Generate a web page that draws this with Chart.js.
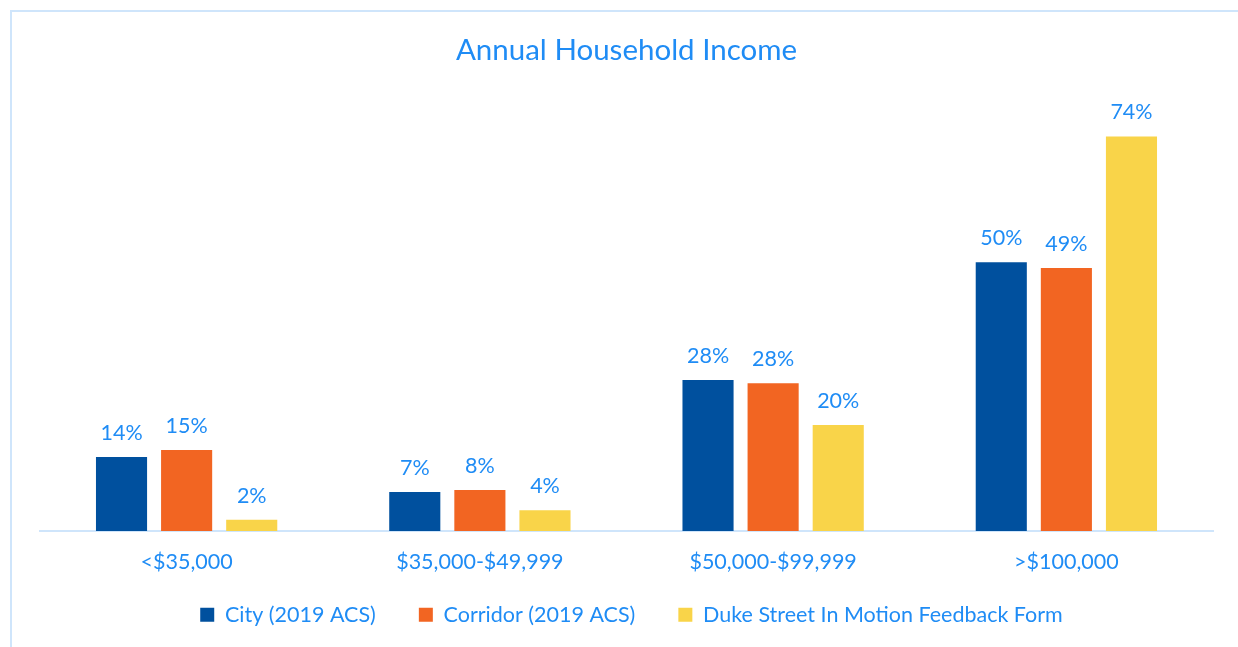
<!DOCTYPE html>
<html>
<head>
<meta charset="utf-8">
<script src="https://cdn.jsdelivr.net/npm/chart.js@4"></script>
<style>
  html, body { margin: 0; padding: 0; background: #fff; overflow: hidden; }
  #wrap { position: relative; width: 1238px; height: 647px; }
  #frame { position: absolute; left: 10px; top: 10px; width: 1300px; height: 700px;
           border-left: 2px solid #cfe5fb; border-top: 2px solid #cfe5fb; }
  canvas { position: absolute; left: 0; top: 0; }
</style>
</head>
<body>
<div id="wrap">
  <div id="frame"></div>
  <canvas id="barChart" width="1238" height="647"></canvas>
</div>
<script>
const categories = ["<$35,000", "$35,000-$49,999", "$50,000-$99,999", ">$100,000"];
const series_names = ["City (2019 ACS)", "Corridor (2019 ACS)", "Duke Street In Motion Feedback Form"];
const city_values = [13.9, 7.3, 28.3, 50.4];
const corridor_values = [15.2, 7.7, 27.7, 49.3];
const duke_values = [2.1, 3.9, 19.9, 74];
const bar_colors = ["#00509e", "#f26522", "#f9d449"];
const text_blue = "#1f8cf5";
const font_family = "Lato, 'Open Sans', sans-serif";

// draws the % labels over each bar
var barLabels = {
  id: "barLabels",
  afterDatasetsDraw: function(chart) {
    var ctx = chart.ctx;
    ctx.save();
    ctx.fillStyle = text_blue;
    ctx.font = "21.5px " + font_family;
    ctx.textAlign = "center";
    ctx.textBaseline = "middle";
    chart.data.datasets.forEach(function(ds, i) {
      chart.getDatasetMeta(i).data.forEach(function(bar, j) {
        ctx.fillText(Math.round(ds.data[j]) + "%", bar.x, bar.y - 24);
      });
    });
    ctx.restore();
  }
};

// legend padding is big for the gaps between items, pull it back up a bit
var legendLift = {
  id: "legendLift",
  afterLayout: function(chart) {
    chart.legend.top -= 16;
    chart.legend.bottom -= 16;
    chart.legend.left += 5;
    chart.legend.right += 5;
  }
};

var ctx = document.getElementById("barChart").getContext("2d");
var barChart = new Chart(ctx, {
  type: "bar",
  data: {
    labels: categories,
    datasets: [
      { label: series_names[0], data: city_values, backgroundColor: bar_colors[0] },
      { label: series_names[1], data: corridor_values, backgroundColor: bar_colors[1] },
      { label: series_names[2], data: duke_values, backgroundColor: bar_colors[2] }
    ]
  },
  options: {
    responsive: false,
    animation: false,
    categoryPercentage: 0.666,
    barPercentage: 0.785,
    layout: { padding: { left: 40, right: 25, top: 0, bottom: 4 } },
    scales: {
      x: {
        grid: { display: false, drawTicks: false },
        border: { color: "#cfe5fb", width: 2 },
        ticks: { color: text_blue, font: { family: font_family, size: 21.5 }, padding: 18 },
        afterFit: function(scale) { scale.height = 46; }
      },
      y: { display: false, min: 0, max: 80 }
    },
    plugins: {
      title: {
        display: true,
        text: "Annual Household Income",
        color: text_blue,
        font: { family: font_family, size: 29.5, weight: "normal" },
        padding: { top: 33, bottom: 36 }
      },
      legend: {
        position: "bottom",
        maxHeight: 66,
        labels: {
          color: text_blue,
          font: { family: font_family, size: 21.5 },
          boxWidth: 14,
          boxHeight: 14,
          padding: 43
        }
      },
      tooltip: { enabled: false }
    }
  },
  plugins: [barLabels, legendLift]
});
</script>
</body>
</html>
